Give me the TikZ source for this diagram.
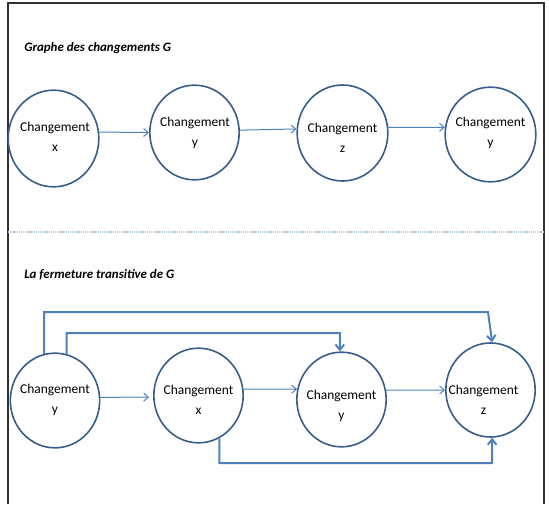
\documentclass[tikz,border=0pt]{standalone}
\usepackage{fontspec}
\setmainfont{Carlito}
\usetikzlibrary{shapes.geometric,arrows.meta}
\definecolor{ring}{HTML}{385D8A}
\definecolor{arrblue}{HTML}{4F81BD}
\definecolor{sepblue}{HTML}{B8CCE4}
\definecolor{frame}{HTML}{303030}
\tikzset{
  ring/.style={draw=ring, line width=1.2pt, ellipse, inner sep=0pt, minimum width=67pt, minimum height=71pt},
  lbl/.style={font=\fontsize{10.1}{15}\selectfont, align=center, inner sep=0pt, text=black},
  ttl/.style={font=\fontsize{9.7}{12}\selectfont\bfseries\itshape, anchor=west, inner sep=0pt},
  arr/.style={draw=arrblue, line width=0.75pt, -{Straight Barb[length=3.5pt,width=6pt]}},
  elb/.style={draw=arrblue, line width=1.5pt, -{Straight Barb[length=4pt,width=6.5pt]}},
}
\begin{document}
\begin{tikzpicture}[x=0.75pt,y=-0.75pt]
\useasboundingbox (0,0) rectangle (549,504);
% frame
\draw[frame, line width=1.4pt] (8,504) -- (8,3) -- (544,3) -- (544,504);
\draw[sepblue, line width=0.9pt, dash pattern=on 1pt off 0.6pt] (8,232) -- (544,232);
% titles
\node[ttl] (t1) at (24,48) {Graphe des changements G};
\node[ttl] (t2) at (24,275) {La fermeture transitive de G};
% top row
\node[ring, minimum width=68pt, minimum height=72.5pt] (c1) at (53.5,138.5) {};
\node[ring] (c2) at (194.5,132.5) {};
\node[ring, minimum width=68pt, minimum height=72pt] (c3) at (342.5,133) {};
\node[ring, minimum width=68pt] (c4) at (490.5,134.5) {};
\node[lbl] (l1) at (55,137) {Changement\\x};
\node[lbl] (l2) at (195,132.5) {Changement\\y};
\node[lbl] (l3) at (342.5,137.5) {Changement\\z};
\node[lbl] (l4) at (490.5,132.5) {Changement\\y};
\draw[arr] (c1.8) -- (c2.west);
\draw[arr] (c2.3) -- (c3.175);
\draw[arr] (c3.7) -- (c4.171);
% bottom row
\node[ring] (b1) at (55,400.5) {};
\node[ring] (b2) at (198.5,395.5) {};
\node[ring] (b3) at (341.5,399.5) {};
\node[ring, minimum height=70.5pt] (b4) at (490.5,390) {};
\node[lbl] (m1) at (55,400) {Changement\\y};
\node[lbl] (m2) at (198.5,399.5) {Changement\\x};
\node[lbl] (m3) at (341.5,406) {Changement\\y};
\node[lbl] (m4) at (483.5,399.5) {Changement\\z};
\coordinate (o1) at (488,312);
\coordinate (o2) at (340,333);
\coordinate (o3) at (492,463);
\draw[arr, shorten >=3pt] (b1.4) -- (b2.182);
\draw[arr] (b2.8) -- (b3.167);
\draw[arr] (b3.12) -- (b4.west);
\draw[elb] (b1.103) |- (o1) -- (b4.88);
\draw[elb] (b1.76) |- (o2) -- (b3.92);
\draw[elb] (b2.-64) |- (o3) -- (b4.-88);
\end{tikzpicture}
\end{document}
